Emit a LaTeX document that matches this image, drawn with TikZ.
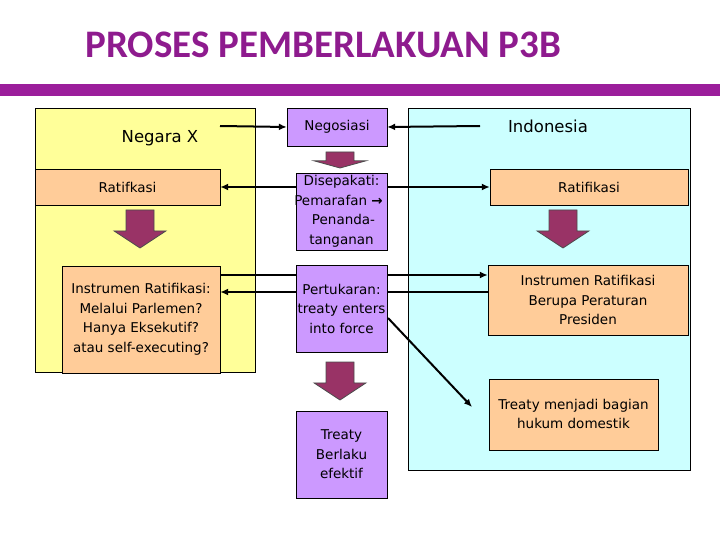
\documentclass[tikz,border=0pt]{standalone}
\usepackage{fontspec}
\setmainfont{DejaVu Sans}
\newfontfamily\titlefont{Carlito}
\usetikzlibrary{arrows.meta}
\definecolor{ttl}{HTML}{8E1B8E}
\definecolor{bar}{HTML}{9B1E9B}
\definecolor{yel}{HTML}{FFFF99}
\definecolor{cya}{HTML}{CCFFFF}
\definecolor{pur}{HTML}{CC99FF}
\definecolor{org}{HTML}{FFCC99}
\definecolor{fat}{HTML}{993366}
\begin{document}
\begin{tikzpicture}[x=1pt,y=-1pt,
  every node/.style={font=\fontsize{13.5}{19.5}\selectfont, align=center},
  pbox/.style={draw, fill=pur, inner sep=0pt},
  obox/.style={draw, fill=org, inner sep=0pt},
  conn/.style={line width=2pt, -{Latex[length=8pt,width=7pt]}},
  fatarrow/.style={draw=black!70, fill=fat, line width=0.8pt}]
\useasboundingbox (0,0) rectangle (720,540);
\node[font=\titlefont\bfseries\fontsize{39}{44}\selectfont, text=ttl, anchor=west] (title) at (82,45) {PROSES PEMBERLAKUAN P3B};
\fill[bar] (0,84) rectangle (720,96);
\draw[fill=yel] (35,108) rectangle (255,372);
\draw[fill=cya] (408,108) rectangle (690,470);
\node (nx) at (160,138) {\fontsize{16.5}{20}\selectfont Negara X};
\node (ind) at (548,126) {\fontsize{16.5}{20}\selectfont Indonesia};
\coordinate (nxend) at (220,126);
\coordinate (indend) at (480,126);
\coordinate (diagend) at (472,407);
% small boxes positions
\path (337,127) node[pbox, minimum width=100pt, minimum height=38pt] (neg) {Negosiasi};
\path (341.5,211.5) node[minimum width=91pt, minimum height=77pt, inner sep=0pt] (dis) {};
\path (341.5,308.5) node[minimum width=91pt, minimum height=87pt, inner sep=0pt] (per) {};
\path (127.5,187) node[minimum width=185pt, minimum height=36pt, inner sep=0pt] (ratl) {};
\path (141,319.5) node[minimum width=158pt, minimum height=107pt, inner sep=0pt] (insl) {};
\path (589,187) node[minimum width=198pt, minimum height=36pt, inner sep=0pt] (ratr) {};
\path (588,300) node[minimum width=200pt, minimum height=70pt, inner sep=0pt] (insr) {};
% connectors
\draw[conn] (nxend) -- (neg.west);
\draw[conn] (indend) -- (neg.east);
\draw[conn] (dis.west |- 0,187) -- (ratl.east);
\draw[conn] (dis.east |- 0,187) -- (ratr.west);
\draw[conn] (insl.east |- 0,275) -- (insr.west |- 0,275);
\draw[conn] (insr.west |- 0,292) -- (insl.east |- 0,292);
\draw[conn] (388,318) -- (diagend);
% boxes
\node[pbox, minimum width=91pt, minimum height=77pt] at (dis) {};
\node at (dis) {Disepakati:\\\hspace*{-6pt}Pemarafan {\bfseries →}\\\hspace*{4pt}Penanda-\\tanganan};
\node[pbox, minimum width=91pt, minimum height=87pt] at (per) {Pertukaran:\\treaty enters\\into force};
\node[pbox, minimum width=91pt, minimum height=87pt] (ber) at (341.5,454.5) {Treaty\\Berlaku\\efektif};
\node[obox, minimum width=185pt, minimum height=36pt] at (ratl) {Ratifkasi};
\node[obox, minimum width=158pt, minimum height=107pt] at (insl) {Instrumen Ratifikasi:\\Melalui Parlemen?\\Hanya Eksekutif?\\atau self-executing?};
\node[obox, minimum width=198pt, minimum height=36pt] at (ratr) {Ratifikasi};
\node[obox, minimum width=200pt, minimum height=70pt] at (insr) {Instrumen Ratifikasi\\Berupa Peraturan\\Presiden};
\node[obox, minimum width=169pt, minimum height=71pt] (tmd) at (573.5,414.5) {};
\node at (573.5,414) {Treaty menjadi bagian\\hukum domestik};
% fat arrows
\foreach \cx/\ty/\by in {140/210/248, 340/152/168, 563/210/248, 340/362/400}{
  \pgfmathsetmacro{\hy}{\ty+0.55*(\by-\ty)}
  \draw[fatarrow] (\cx-14,\ty) -- (\cx+14,\ty) -- (\cx+14,\hy) -- (\cx+26,\hy) -- (\cx,\by) -- (\cx-26,\hy) -- (\cx-14,\hy) -- cycle;
}
\end{tikzpicture}
\end{document}
